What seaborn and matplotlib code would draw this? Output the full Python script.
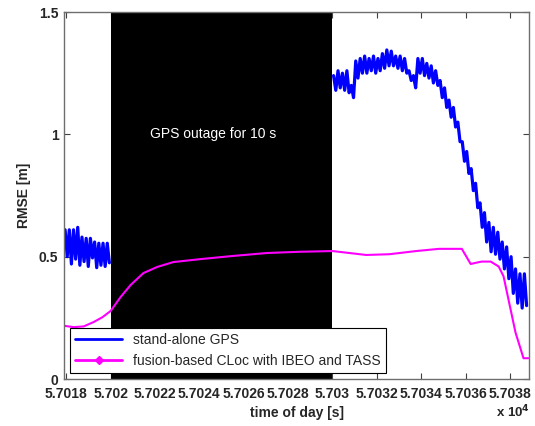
import numpy as np
import pandas as pd
import matplotlib
matplotlib.use("Agg")
import matplotlib.pyplot as plt
from matplotlib.lines import Line2D
import seaborn as sns

sns.set_theme(style="white")
plt.rcParams['font.family'] = ['Liberation Sans', 'DejaVu Sans']

# ---------------- data ----------------
# stand-alone GPS: alternating high / low samples (one cycle = high then low)
gps1_start = 57017.95
gps1_period = 0.19
gps1_high = [0.61, 0.61, 0.61, 0.62, 0.58, 0.575, 0.575, 0.56, 0.555, 0.555, 0.555]
gps1_low = [0.50, 0.47, 0.49, 0.465, 0.48, 0.46, 0.495, 0.455, 0.465, 0.46, 0.475]

gps2_start = 57030.05
gps2_period = 0.2
gps2_high = [1.24, 1.26, 1.25, 1.26, 1.20, 1.30, 1.31, 1.32, 1.31, 1.32, 1.31,
             1.33, 1.345, 1.34, 1.32, 1.32, 1.31, 1.26, 1.24, 1.31, 1.31, 1.29,
             1.28, 1.26, 1.22, 1.19, 1.14, 1.11, 1.05, 0.97, 0.93, 0.86, 0.80,
             0.72, 0.68, 0.64, 0.62, 0.60, 0.56, 0.54, 0.50, 0.45, 0.43, 0.43]
gps2_low = [1.18, 1.19, 1.18, 1.17, 1.15, 1.23, 1.25, 1.25, 1.26, 1.25, 1.26,
            1.27, 1.28, 1.28, 1.27, 1.26, 1.25, 1.22, 1.19, 1.25, 1.24, 1.23,
            1.21, 1.20, 1.15, 1.11, 1.07, 1.03, 0.97, 0.89, 0.84, 0.77, 0.70,
            0.62, 0.56, 0.52, 0.51, 0.49, 0.45, 0.41, 0.35, 0.31, 0.29, 0.30]

# fusion-based CLoc
fus_t = [57017.94, 57018.34, 57018.79, 57019.24, 57019.64, 57020.0, 57020.45,
         57020.9, 57021.48, 57022.1, 57022.83, 57024.04, 57025.52, 57027.04,
         57028.5, 57030.0, 57031.52, 57032.56, 57033.77, 57034.8, 57035.83,
         57036.23, 57036.46, 57036.73, 57037.13, 57037.49, 57037.71, 57038.25,
         57038.61, 57038.83]
fus_v = [0.217, 0.212, 0.215, 0.233, 0.253, 0.278, 0.335, 0.384, 0.433, 0.458,
         0.478, 0.49, 0.503, 0.515, 0.52, 0.523, 0.507, 0.51, 0.523, 0.532,
         0.532, 0.47, 0.475, 0.48, 0.48, 0.46, 0.42, 0.19, 0.085, 0.085]

outage_start, outage_end = 57020.0, 57030.0
xticks = [57018, 57020, 57022, 57024, 57026, 57028, 57030, 57032, 57034, 57036, 57038]
xticklabels = ["5.7018", "5.702", "5.7022", "5.7024", "5.7026", "5.7028",
               "5.703", "5.7032", "5.7034", "5.7036", "5.7038"]
yticks = [0, 0.5, 1, 1.5]
yticklabels = ["0", "0.5", "1", "1.5"]


def zigzag(start, period, highs, lows):
    t, v = [], []
    for k, (h, l) in enumerate(zip(highs, lows)):
        t += [start + k * period, start + k * period + period / 2]
        v += [h, l]
    return pd.DataFrame({"t": t, "v": v})


df_g1 = zigzag(gps1_start, gps1_period, gps1_high, gps1_low)
df_g2 = zigzag(gps2_start, gps2_period, gps2_high, gps2_low)
df_f = pd.DataFrame({"t": fus_t, "v": fus_v})

# ---------------- figure ----------------
fig = plt.figure(figsize=(5.35, 4.26), dpi=100)
ax = fig.add_axes([0.1196, 0.1103, 0.8701, 0.8615])

ax.axvspan(outage_start, outage_end, color="black", zorder=1, lw=0)

blue = "#0000ff"
mag = "#ff00ff"
for d in (df_g1, df_g2):
    sns.lineplot(data=d, x="t", y="v", ax=ax, color=blue, lw=2.3,
                 estimator=None, sort=False, zorder=3)
sns.lineplot(data=df_f, x="t", y="v", ax=ax, color=mag, lw=1.5,
             estimator=None, sort=False, zorder=4)

ax.text((outage_start + outage_end) / 2 - 0.4, 1.0, "GPS outage for 10 s",
        color="white", fontsize=10, ha="center", va="center", zorder=5)

ax.set_xlim(57017.9, 57038.88)
ax.set_ylim(0, 1.5)
ax.set_xticks(xticks)
ax.set_xticklabels(xticklabels, fontweight="bold", fontsize=10)
ax.set_yticks(yticks)
ax.set_yticklabels(yticklabels, fontweight="bold", fontsize=10)
ax.tick_params(direction="in", length=4, width=0.8, color="#404040",
               top=True, right=True, bottom=True, left=True)
ax.tick_params(axis="x", pad=6)
ax.tick_params(axis="y", pad=4)
for s in ax.spines.values():
    s.set_color("#6e6e6e")
    s.set_linewidth(1.0)
    s.set_zorder(6)

ax.set_xlabel("time of day [s]", fontweight="bold", fontsize=10, labelpad=3)
ax.set_ylabel("RMSE [m]", fontweight="bold", fontsize=10, labelpad=6)
fig.text(0.99, 9 / 426, r"x 10$^{\mathbf{4}}$", fontweight="bold", fontsize=9.5,
         ha="right", va="baseline")

handles = [Line2D([0], [0], color=blue, lw=2.0),
           Line2D([0], [0], color=mag, lw=2.0, marker="D", markersize=4)]
leg = ax.legend(handles, ["stand-alone GPS", "fusion-based CLoc with IBEO and TASS"],
                loc="lower left", bbox_to_anchor=(0.013, 0.016), borderaxespad=0,
                fontsize=10, frameon=True, fancybox=False, framealpha=1,
                edgecolor="black", borderpad=0.35, handlelength=3.4,
                labelspacing=0.5)
leg.get_frame().set_linewidth(0.8)
leg.set_zorder(10)

fig.savefig("out.png", dpi=100)
